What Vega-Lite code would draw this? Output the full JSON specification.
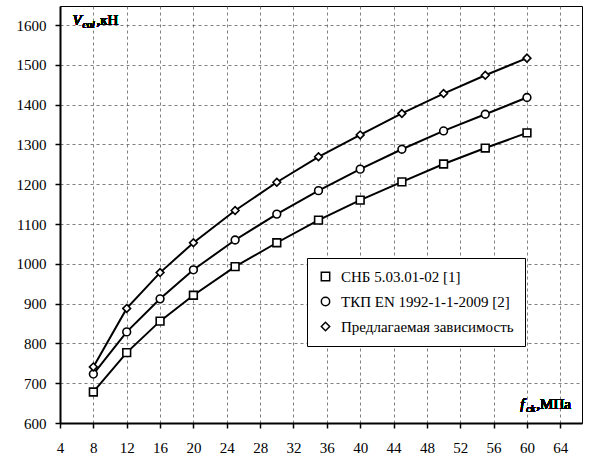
{
  "$schema": "https://vega.github.io/schema/vega-lite/v6.json",
  "width": 522,
  "height": 417,
  "autosize": {"type": "none"},
  "padding": {"left": 60, "top": 6, "right": 7, "bottom": 38},
  "background": "white",
  "config": {
    "font": "Liberation Serif",
    "view": {"stroke": "black", "strokeWidth": 1},
    "axis": {
      "labelFont": "Liberation Serif",
      "labelFontSize": 15,
      "labelColor": "black",
      "domainColor": "black",
      "domainWidth": 2,
      "tickColor": "black",
      "tickWidth": 1.5,
      "tickSize": 5,
      "gridColor": "#555",
      "gridDash": [3, 3],
      "gridWidth": 1,
      "gridOpacity": 0.75,
      "title": null
    }
  },
  "data": {
    "values": [
      {"series": "СНБ  5.03.01-02 [1]", "x": 8, "y": 678},
      {"series": "СНБ  5.03.01-02 [1]", "x": 12, "y": 777},
      {"series": "СНБ  5.03.01-02 [1]", "x": 16, "y": 856},
      {"series": "СНБ  5.03.01-02 [1]", "x": 20, "y": 921},
      {"series": "СНБ  5.03.01-02 [1]", "x": 25, "y": 993},
      {"series": "СНБ  5.03.01-02 [1]", "x": 30, "y": 1053},
      {"series": "СНБ  5.03.01-02 [1]", "x": 35, "y": 1110},
      {"series": "СНБ  5.03.01-02 [1]", "x": 40, "y": 1160},
      {"series": "СНБ  5.03.01-02 [1]", "x": 45, "y": 1206},
      {"series": "СНБ  5.03.01-02 [1]", "x": 50, "y": 1251},
      {"series": "СНБ  5.03.01-02 [1]", "x": 55, "y": 1291},
      {"series": "СНБ  5.03.01-02 [1]", "x": 60, "y": 1329},
      {"series": "ТКП EN  1992-1-1-2009 [2]", "x": 8, "y": 723},
      {"series": "ТКП EN  1992-1-1-2009 [2]", "x": 12, "y": 829},
      {"series": "ТКП EN  1992-1-1-2009 [2]", "x": 16, "y": 912},
      {"series": "ТКП EN  1992-1-1-2009 [2]", "x": 20, "y": 985},
      {"series": "ТКП EN  1992-1-1-2009 [2]", "x": 25, "y": 1060},
      {"series": "ТКП EN  1992-1-1-2009 [2]", "x": 30, "y": 1125},
      {"series": "ТКП EN  1992-1-1-2009 [2]", "x": 35, "y": 1184},
      {"series": "ТКП EN  1992-1-1-2009 [2]", "x": 40, "y": 1238},
      {"series": "ТКП EN  1992-1-1-2009 [2]", "x": 45, "y": 1288},
      {"series": "ТКП EN  1992-1-1-2009 [2]", "x": 50, "y": 1334},
      {"series": "ТКП EN  1992-1-1-2009 [2]", "x": 55, "y": 1376},
      {"series": "ТКП EN  1992-1-1-2009 [2]", "x": 60, "y": 1418},
      {"series": "Предлагаемая зависимость", "x": 8, "y": 741},
      {"series": "Предлагаемая зависимость", "x": 12, "y": 888},
      {"series": "Предлагаемая зависимость", "x": 16, "y": 978},
      {"series": "Предлагаемая зависимость", "x": 20, "y": 1053},
      {"series": "Предлагаемая зависимость", "x": 25, "y": 1134},
      {"series": "Предлагаемая зависимость", "x": 30, "y": 1205},
      {"series": "Предлагаемая зависимость", "x": 35, "y": 1269},
      {"series": "Предлагаемая зависимость", "x": 40, "y": 1324},
      {"series": "Предлагаемая зависимость", "x": 45, "y": 1378},
      {"series": "Предлагаемая зависимость", "x": 50, "y": 1428},
      {"series": "Предлагаемая зависимость", "x": 55, "y": 1474},
      {"series": "Предлагаемая зависимость", "x": 60, "y": 1517}
    ]
  },
  "encoding": {
    "x": {
      "field": "x",
      "type": "quantitative",
      "scale": {"domain": [4, 66.6], "nice": false, "zero": false},
      "axis": {"values": [4, 8, 12, 16, 20, 24, 28, 32, 36, 40, 44, 48, 52, 56, 60, 64], "format": "d", "labelPadding": 12, "labelFlush": false}
    },
    "y": {
      "field": "y",
      "type": "quantitative",
      "scale": {"domain": [600, 1648], "nice": false, "zero": false},
      "axis": {"values": [600, 700, 800, 900, 1000, 1100, 1200, 1300, 1400, 1500, 1600], "format": "d", "labelPadding": 9, "labelFlush": false}
    }
  },
  "layer": [
    {
      "mark": {"type": "line", "color": "black", "strokeWidth": 2},
      "encoding": {"detail": {"field": "series"}}
    },
    {
      "mark": {"type": "point", "filled": true, "fill": "white", "stroke": "black", "strokeWidth": 1.6, "size": 60, "opacity": 1},
      "encoding": {
        "shape": {
          "field": "series",
          "type": "nominal",
          "scale": {
            "domain": ["СНБ  5.03.01-02 [1]", "ТКП EN  1992-1-1-2009 [2]", "Предлагаемая зависимость"],
            "range": ["square", "circle", "diamond"]
          },
          "legend": {
            "title": null,
            "orient": "none",
            "legendX": 247,
            "legendY": 252,
            "direction": "vertical",
            "padding": 11,
            "rowPadding": 9,
            "symbolSize": 70,
            "symbolOpacity": 1,
            "symbolStrokeWidth": 1.5,
            "labelFont": "Liberation Serif",
            "labelFontSize": 15,
            "labelColor": "black",
            "labelLimit": 0,
            "labelOffset": 8,
            "strokeColor": "black",
            "fillColor": "white"
          }
        }
      }
    },
    {
      "mark": {"type": "text", "text": "V", "font": "Liberation Serif", "fontStyle": "italic", "fontSize": 15, "align": "left", "baseline": "alphabetic", "color": "black"},
      "encoding": {"x": {"datum": 5.5}, "y": {"datum": 1600}}
    },
    {
      "mark": {"type": "text", "text": "cal", "font": "Liberation Serif", "fontStyle": "italic", "fontSize": 10, "align": "left", "baseline": "alphabetic", "dx": 10, "dy": 3, "color": "black"},
      "encoding": {"x": {"datum": 5.5}, "y": {"datum": 1600}}
    },
    {
      "mark": {"type": "text", "text": ",кН", "font": "Liberation Serif", "fontSize": 15, "align": "left", "baseline": "alphabetic", "dx": 24, "color": "black"},
      "encoding": {"x": {"datum": 5.5}, "y": {"datum": 1600}}
    },
    {
      "mark": {"type": "text", "text": "f", "font": "Liberation Serif", "fontStyle": "italic", "fontSize": 15, "align": "left", "baseline": "alphabetic", "color": "black"},
      "encoding": {"x": {"datum": 59.2}, "y": {"datum": 635}}
    },
    {
      "mark": {"type": "text", "text": "ck", "font": "Liberation Serif", "fontStyle": "italic", "fontSize": 10, "align": "left", "baseline": "alphabetic", "dx": 6, "dy": 3, "color": "black"},
      "encoding": {"x": {"datum": 59.2}, "y": {"datum": 635}}
    },
    {
      "mark": {"type": "text", "text": ",МПа", "font": "Liberation Serif", "fontSize": 15, "align": "left", "baseline": "alphabetic", "dx": 16, "color": "black"},
      "encoding": {"x": {"datum": 59.2}, "y": {"datum": 635}}
    }
  ]
}
